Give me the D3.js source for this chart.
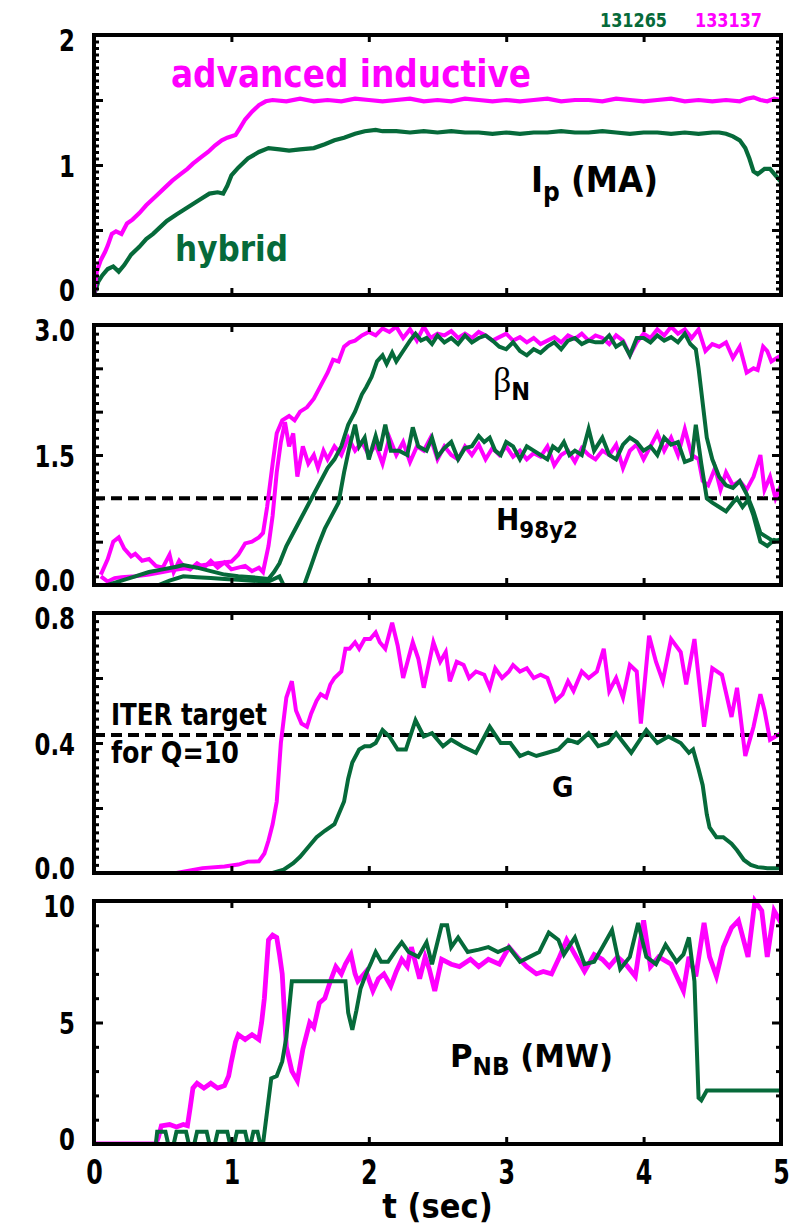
<!DOCTYPE html>
<html><head><meta charset="utf-8">
<script src="https://cdn.jsdelivr.net/npm/d3@7"></script>
<style>
html,body{margin:0;padding:0;background:#fff;}
svg{display:block;}
text{font-family:"Liberation Sans Narrow","DejaVu Sans Condensed","Roboto Condensed","DejaVu Sans",sans-serif;font-weight:bold;}
</style></head>
<body>
<svg id="chart" width="796" height="1227"></svg>
<script>
// ---------------- data ----------------
const shotLabels = ["131265", "133137"];
const xTickValues = [0, 1, 2, 3, 4, 5];

// Panel 1: plasma current Ip (MA)
const ipAdvanced = [[0,0],[0.02,0.18],[0.05,0.27],[0.08,0.33],[0.1,0.38],[0.13,0.47],[0.16,0.49],[0.2,0.47],[0.24,0.55],[0.28,0.58],[0.33,0.63],[0.38,0.69],[0.45,0.76],[0.52,0.83],[0.57,0.88],[0.63,0.93],[0.68,0.97],[0.72,1.01],[0.78,1.06],[0.83,1.10],[0.88,1.15],[0.93,1.19],[0.97,1.21],[1.03,1.23],[1.06,1.28],[1.1,1.35],[1.15,1.41],[1.2,1.46],[1.25,1.49],[1.3,1.50],[1.4,1.49],[1.5,1.51],[1.6,1.49],[1.7,1.50],[1.8,1.49],[1.9,1.51],[2.0,1.50],[2.1,1.49],[2.2,1.50],[2.3,1.51],[2.4,1.49],[2.5,1.50],[2.6,1.49],[2.7,1.51],[2.8,1.50],[2.9,1.49],[3.0,1.50],[3.1,1.49],[3.2,1.50],[3.3,1.51],[3.4,1.49],[3.5,1.50],[3.6,1.50],[3.7,1.49],[3.8,1.51],[3.9,1.50],[4.0,1.49],[4.1,1.50],[4.2,1.51],[4.3,1.49],[4.4,1.50],[4.5,1.49],[4.6,1.50],[4.7,1.49],[4.75,1.51],[4.8,1.52],[4.85,1.50],[4.9,1.49],[4.95,1.51],[5.0,1.50]];
const ipHybrid = [[0,0],[0.03,0.1],[0.06,0.15],[0.1,0.2],[0.14,0.22],[0.18,0.18],[0.22,0.23],[0.27,0.31],[0.33,0.37],[0.38,0.43],[0.43,0.47],[0.48,0.52],[0.53,0.57],[0.6,0.62],[0.66,0.66],[0.72,0.70],[0.78,0.74],[0.84,0.78],[0.9,0.79],[0.94,0.78],[0.97,0.84],[1.0,0.92],[1.05,0.98],[1.12,1.05],[1.2,1.10],[1.27,1.13],[1.35,1.12],[1.42,1.11],[1.5,1.12],[1.6,1.13],[1.68,1.16],[1.75,1.19],[1.82,1.21],[1.9,1.24],[1.97,1.26],[2.05,1.27],[2.1,1.26],[2.2,1.26],[2.3,1.25],[2.4,1.26],[2.5,1.25],[2.6,1.26],[2.7,1.25],[2.8,1.25],[2.9,1.24],[3.0,1.25],[3.1,1.24],[3.2,1.25],[3.3,1.25],[3.4,1.26],[3.5,1.25],[3.6,1.25],[3.7,1.26],[3.8,1.25],[3.9,1.24],[4.0,1.25],[4.1,1.25],[4.2,1.24],[4.3,1.25],[4.4,1.24],[4.5,1.25],[4.55,1.25],[4.6,1.24],[4.65,1.22],[4.7,1.19],[4.74,1.13],[4.77,1.05],[4.8,0.95],[4.83,0.93],[4.88,0.97],[4.92,0.97],[4.96,0.92],[5.0,0.87]];

// Panel 2: beta_N and H98y2
const betaNAdvanced = [[0.05,0.1],[0.1,0.04],[0.15,0.08],[0.2,0.09],[0.3,0.1],[0.4,0.12],[0.5,0.15],[0.6,0.18],[0.7,0.2],[0.8,0.23],[0.9,0.25],[1.0,0.27],[1.05,0.35],[1.1,0.48],[1.15,0.5],[1.2,0.55],[1.23,0.6],[1.26,0.9],[1.3,1.4],[1.33,1.75],[1.37,1.9],[1.42,1.95],[1.46,1.9],[1.5,2.0],[1.55,2.05],[1.6,2.15],[1.65,2.3],[1.7,2.45],[1.74,2.6],[1.78,2.58],[1.82,2.75],[1.86,2.8],[1.9,2.82],[1.95,2.88],[2.0,2.92],[2.05,2.88],[2.1,2.96],[2.15,2.92],[2.2,2.98],[2.25,2.85],[2.3,2.95],[2.35,2.82],[2.4,2.98],[2.45,2.85],[2.5,2.9],[2.55,2.88],[2.6,2.93],[2.65,2.85],[2.7,2.9],[2.75,2.85],[2.8,2.92],[2.85,2.88],[2.9,2.82],[2.95,2.86],[3.0,2.9],[3.05,2.82],[3.1,2.86],[3.15,2.8],[3.2,2.85],[3.25,2.78],[3.3,2.82],[3.35,2.86],[3.4,2.8],[3.45,2.88],[3.5,2.84],[3.55,2.9],[3.6,2.82],[3.65,2.88],[3.7,2.85],[3.75,2.78],[3.8,2.88],[3.85,2.82],[3.9,2.65],[3.95,2.8],[4.0,2.9],[4.05,2.85],[4.1,2.95],[4.15,2.88],[4.2,2.98],[4.25,2.9],[4.3,2.95],[4.35,2.85],[4.4,2.95],[4.45,2.7],[4.5,2.78],[4.55,2.75],[4.6,2.8],[4.65,2.62],[4.7,2.75],[4.75,2.45],[4.8,2.5],[4.83,2.48],[4.87,2.75],[4.9,2.7],[4.93,2.58],[4.97,2.62],[5.0,2.65]];
const h98Advanced = [[0.05,0.12],[0.1,0.3],[0.14,0.5],[0.18,0.55],[0.22,0.42],[0.27,0.33],[0.3,0.36],[0.35,0.28],[0.4,0.3],[0.45,0.22],[0.5,0.2],[0.55,0.35],[0.58,0.15],[0.62,0.28],[0.66,0.2],[0.7,0.18],[0.75,0.25],[0.8,0.2],[0.85,0.28],[0.9,0.2],[0.95,0.26],[1.0,0.18],[1.05,0.2],[1.1,0.22],[1.15,0.16],[1.2,0.2],[1.23,0.15],[1.27,0.45],[1.3,0.8],[1.33,1.3],[1.36,1.65],[1.39,1.88],[1.42,1.6],[1.45,1.75],[1.48,1.25],[1.52,1.6],[1.56,1.4],[1.6,1.5],[1.63,1.35],[1.67,1.55],[1.7,1.45],[1.75,1.6],[1.8,1.5],[1.85,1.7],[1.9,1.55],[1.95,1.65],[2.0,1.5],[2.05,1.62],[2.1,1.4],[2.15,1.7],[2.2,1.5],[2.25,1.65],[2.3,1.42],[2.35,1.6],[2.4,1.55],[2.45,1.7],[2.5,1.45],[2.55,1.6],[2.6,1.5],[2.65,1.45],[2.7,1.6],[2.75,1.5],[2.8,1.62],[2.85,1.45],[2.9,1.58],[2.95,1.5],[3.0,1.6],[3.05,1.48],[3.1,1.55],[3.15,1.45],[3.2,1.52],[3.25,1.48],[3.3,1.6],[3.35,1.38],[3.4,1.5],[3.45,1.55],[3.5,1.42],[3.55,1.58],[3.6,1.5],[3.65,1.45],[3.7,1.55],[3.75,1.5],[3.8,1.62],[3.85,1.35],[3.9,1.55],[3.95,1.62],[4.0,1.45],[4.05,1.6],[4.1,1.75],[4.15,1.55],[4.2,1.7],[4.25,1.5],[4.3,1.8],[4.35,1.5],[4.4,1.45],[4.43,1.2],[4.47,1.15],[4.52,1.35],[4.56,1.1],[4.6,1.3],[4.65,1.15],[4.7,1.2],[4.75,1.1],[4.8,1.25],[4.85,1.5],[4.88,1.1],[4.92,1.25],[4.96,1.0],[5.0,1.15]];
const betaNHybrid = [[0.1,0.0],[0.2,0.05],[0.3,0.1],[0.4,0.15],[0.5,0.18],[0.6,0.21],[0.65,0.23],[0.75,0.2],[0.85,0.16],[0.95,0.12],[1.05,0.1],[1.15,0.09],[1.27,0.07],[1.31,0.15],[1.35,0.25],[1.4,0.45],[1.45,0.6],[1.5,0.75],[1.55,0.9],[1.6,1.05],[1.65,1.2],[1.7,1.35],[1.75,1.45],[1.8,1.6],[1.85,1.85],[1.9,2.0],[1.95,2.2],[1.98,2.28],[2.02,2.4],[2.06,2.58],[2.1,2.65],[2.13,2.55],[2.17,2.68],[2.2,2.58],[2.25,2.7],[2.3,2.82],[2.34,2.9],[2.38,2.82],[2.42,2.85],[2.46,2.78],[2.5,2.88],[2.55,2.8],[2.6,2.85],[2.65,2.78],[2.7,2.88],[2.75,2.8],[2.8,2.85],[2.85,2.88],[2.9,2.82],[2.95,2.75],[3.0,2.72],[3.05,2.8],[3.1,2.7],[3.15,2.65],[3.2,2.72],[3.25,2.68],[3.3,2.75],[3.35,2.8],[3.4,2.72],[3.45,2.82],[3.5,2.85],[3.55,2.78],[3.6,2.82],[3.65,2.8],[3.7,2.8],[3.75,2.88],[3.8,2.75],[3.85,2.8],[3.9,2.65],[3.95,2.85],[4.0,2.85],[4.05,2.8],[4.1,2.88],[4.15,2.82],[4.2,2.86],[4.25,2.8],[4.3,2.9],[4.34,2.78],[4.38,2.72],[4.4,2.5],[4.43,2.1],[4.46,1.7],[4.5,1.45],[4.55,1.25],[4.6,1.15],[4.65,1.12],[4.7,1.2],[4.75,1.05],[4.8,0.85],[4.85,0.6],[4.9,0.55],[4.95,0.5],[5.0,0.53]];
const h98Hybrid = [[0.47,0.0],[0.55,0.05],[0.65,0.1],[0.75,0.09],[0.85,0.08],[0.95,0.07],[1.05,0.06],[1.15,0.05],[1.27,0.04],[1.35,0.1],[1.38,0.0],[1.53,0.0],[1.58,0.22],[1.63,0.45],[1.68,0.65],[1.73,0.8],[1.78,0.95],[1.82,1.3],[1.86,1.6],[1.9,1.85],[1.93,1.6],[1.97,1.7],[2.0,1.45],[2.05,1.72],[2.08,1.55],[2.12,1.85],[2.16,1.55],[2.22,1.55],[2.28,1.5],[2.32,1.82],[2.36,1.6],[2.42,1.55],[2.46,1.7],[2.5,1.48],[2.55,1.58],[2.6,1.65],[2.65,1.45],[2.7,1.58],[2.75,1.6],[2.8,1.72],[2.84,1.65],[2.88,1.7],[2.92,1.55],[2.96,1.5],[3.0,1.65],[3.05,1.6],[3.1,1.45],[3.15,1.6],[3.2,1.55],[3.25,1.5],[3.3,1.45],[3.34,1.6],[3.38,1.55],[3.42,1.65],[3.46,1.5],[3.5,1.55],[3.55,1.5],[3.6,1.8],[3.64,1.55],[3.7,1.7],[3.75,1.5],[3.8,1.45],[3.85,1.62],[3.9,1.7],[3.95,1.65],[4.0,1.55],[4.05,1.6],[4.1,1.5],[4.15,1.7],[4.2,1.62],[4.25,1.65],[4.3,1.42],[4.35,1.45],[4.38,1.85],[4.42,1.4],[4.46,1.0],[4.5,0.95],[4.55,0.9],[4.6,0.85],[4.65,0.95],[4.68,1.0],[4.72,0.9],[4.76,0.98],[4.8,0.8],[4.85,0.5],[4.9,0.45],[4.95,0.52],[5.0,0.5]];
const h98Reference = 1.0;

// Panel 3: gain factor G
const gAdvanced = [[0.05,0],[0.6,0.0],[0.79,0.015],[0.95,0.02],[1.05,0.026],[1.12,0.035],[1.2,0.036],[1.24,0.06],[1.27,0.1],[1.3,0.15],[1.33,0.22],[1.36,0.4],[1.4,0.54],[1.44,0.59],[1.47,0.5],[1.51,0.46],[1.55,0.45],[1.58,0.49],[1.62,0.53],[1.65,0.55],[1.69,0.54],[1.72,0.58],[1.75,0.6],[1.8,0.62],[1.83,0.69],[1.86,0.69],[1.9,0.71],[1.93,0.69],[1.97,0.72],[2.01,0.72],[2.05,0.74],[2.08,0.71],[2.12,0.69],[2.17,0.77],[2.21,0.7],[2.25,0.6],[2.32,0.71],[2.36,0.66],[2.4,0.57],[2.47,0.71],[2.52,0.65],[2.56,0.68],[2.59,0.59],[2.64,0.65],[2.69,0.64],[2.73,0.6],[2.78,0.62],[2.84,0.61],[2.88,0.57],[2.92,0.63],[2.97,0.6],[3.02,0.62],[3.05,0.64],[3.1,0.62],[3.15,0.63],[3.2,0.6],[3.25,0.61],[3.3,0.6],[3.36,0.53],[3.41,0.55],[3.45,0.59],[3.49,0.56],[3.55,0.62],[3.6,0.6],[3.66,0.62],[3.71,0.69],[3.75,0.56],[3.8,0.6],[3.85,0.54],[3.9,0.64],[3.95,0.62],[3.98,0.46],[4.04,0.73],[4.09,0.65],[4.14,0.59],[4.2,0.72],[4.27,0.68],[4.31,0.58],[4.37,0.72],[4.44,0.45],[4.5,0.63],[4.57,0.61],[4.64,0.48],[4.68,0.57],[4.74,0.36],[4.8,0.45],[4.85,0.55],[4.88,0.5],[4.92,0.41],[4.96,0.42],[5.0,0.43]];
const gHybrid = [[0.05,0],[1.3,0.0],[1.38,0.01],[1.45,0.03],[1.5,0.05],[1.56,0.08],[1.62,0.11],[1.68,0.13],[1.75,0.15],[1.79,0.19],[1.82,0.22],[1.85,0.29],[1.88,0.34],[1.93,0.38],[1.97,0.39],[2.01,0.39],[2.05,0.4],[2.1,0.44],[2.15,0.42],[2.21,0.38],[2.27,0.38],[2.34,0.47],[2.4,0.42],[2.46,0.43],[2.54,0.39],[2.6,0.41],[2.68,0.39],[2.78,0.37],[2.88,0.45],[2.96,0.4],[3.03,0.4],[3.1,0.36],[3.16,0.37],[3.22,0.36],[3.3,0.37],[3.38,0.38],[3.45,0.41],[3.52,0.4],[3.6,0.43],[3.67,0.39],[3.74,0.4],[3.8,0.43],[3.91,0.37],[4.02,0.44],[4.1,0.4],[4.18,0.42],[4.27,0.4],[4.33,0.37],[4.36,0.38],[4.4,0.32],[4.43,0.27],[4.46,0.18],[4.48,0.14],[4.53,0.11],[4.58,0.11],[4.64,0.09],[4.68,0.07],[4.73,0.04],[4.78,0.025],[4.83,0.018],[4.9,0.015],[5.0,0.015]];
const gIterTarget = 0.425;

// Panel 4: neutral beam power P_NB (MW)
const pnbAdvanced = [[0,0],[0.45,0],[0.47,0.3],[0.49,0.75],[0.55,0.8],[0.6,0.7],[0.65,0.8],[0.68,0.75],[0.7,1.5],[0.72,2.3],[0.75,2.5],[0.8,2.3],[0.85,2.5],[0.9,2.3],[0.95,2.4],[0.98,2.8],[1.0,3.4],[1.03,4.2],[1.05,4.5],[1.1,4.3],[1.15,4.5],[1.2,4.3],[1.22,5.0],[1.24,6.0],[1.27,8.4],[1.3,8.6],[1.33,8.5],[1.35,7.8],[1.37,7.0],[1.4,4.0],[1.44,3.0],[1.48,2.6],[1.52,3.9],[1.57,5.0],[1.6,4.8],[1.64,5.8],[1.68,6.0],[1.72,6.7],[1.76,7.3],[1.8,7.0],[1.83,7.4],[1.87,7.8],[1.9,7.0],[1.92,6.7],[1.98,7.1],[2.03,6.3],[2.07,6.8],[2.11,7.0],[2.16,6.5],[2.2,7.1],[2.24,7.6],[2.28,7.3],[2.31,8.1],[2.37,6.8],[2.41,7.7],[2.44,7.2],[2.48,6.3],[2.53,7.6],[2.6,7.4],[2.66,7.3],[2.74,7.6],[2.8,7.3],[2.87,7.6],[2.95,7.4],[3.02,8.1],[3.08,7.7],[3.15,7.3],[3.22,7.0],[3.27,7.1],[3.33,7.0],[3.38,7.6],[3.44,8.4],[3.51,7.7],[3.57,7.1],[3.64,7.8],[3.7,7.6],[3.75,7.3],[3.81,7.7],[3.87,7.4],[3.94,6.9],[4.0,9.2],[4.05,7.3],[4.11,7.7],[4.2,7.4],[4.29,6.3],[4.33,7.7],[4.38,6.9],[4.44,9.1],[4.48,7.7],[4.53,6.9],[4.58,8.1],[4.64,8.9],[4.69,9.2],[4.76,7.7],[4.81,10],[4.86,9.6],[4.9,7.7],[4.95,9.6],[5.0,9.1]];
const pnbHybrid = [[0,0],[0.45,0],[0.46,0.5],[0.52,0.5],[0.54,0],[0.58,0],[0.6,0.5],[0.67,0.5],[0.69,0],[0.73,0],[0.75,0.5],[0.82,0.5],[0.84,0],[0.88,0],[0.9,0.5],[0.97,0.5],[0.99,0],[1.02,0],[1.04,0.5],[1.1,0.5],[1.12,0],[1.14,0],[1.16,0.5],[1.19,0.5],[1.21,0],[1.23,0],[1.29,2.7],[1.33,2.8],[1.37,3.4],[1.4,4.4],[1.44,6.7],[1.83,6.7],[1.85,5.4],[1.88,4.7],[1.91,5.5],[1.94,6.4],[1.98,7.0],[2.02,7.5],[2.05,7.9],[2.09,7.5],[2.14,7.5],[2.2,8.0],[2.24,8.3],[2.29,7.9],[2.36,7.7],[2.42,8.3],[2.46,7.4],[2.53,9.0],[2.57,9.0],[2.6,8.1],[2.65,8.5],[2.72,7.9],[2.8,8.0],[2.87,8.1],[2.94,7.9],[3.02,8.1],[3.1,7.5],[3.17,7.7],[3.24,7.9],[3.31,8.7],[3.38,8.4],[3.42,7.8],[3.5,8.5],[3.57,7.4],[3.64,7.5],[3.7,8.1],[3.77,8.8],[3.83,7.2],[3.9,7.7],[3.96,9.1],[4.02,7.7],[4.09,7.4],[4.16,8.2],[4.24,7.5],[4.29,7.8],[4.33,8.5],[4.37,6.7],[4.4,1.9],[4.42,1.8],[4.46,2.2],[5.0,2.2]];

// y-axis tick labels per panel
const ipTickLabels = [0, 1, 2];
const betaTickLabels = [0, 1.5, 3];
const gTickLabels = [0, 0.4, 0.8];
const pnbTickLabels = [0, 5, 10];

// ---------------- layout ----------------
const MAG = "#ff00ff", GRN = "#066a3a";
const L = 94, R = 781;
const svg = d3.select("#chart");
const x = d3.scaleLinear().domain([0, 5]).range([L, R]);

const panels = [
  {top:35, bottom:295, domain:[0,2], labels:ipTickLabels, fmt:d3.format("d"), minor:0.05, major:0.5,
   series:[{d:ipHybrid,c:GRN,w:4.2},{d:ipAdvanced,c:MAG,w:4.2}]},
  {top:325, bottom:585, domain:[0,3], labels:betaTickLabels, fmt:d3.format(".1f"), minor:0.1, major:0.5,
   series:[{d:betaNAdvanced,c:MAG,w:4},{d:h98Advanced,c:MAG,w:4},{d:betaNHybrid,c:GRN,w:4},{d:h98Hybrid,c:GRN,w:4}], ref:h98Reference},
  {top:613, bottom:873, domain:[0,0.8], labels:gTickLabels, fmt:d3.format(".1f"), minor:0.025, major:0.2,
   series:[{d:gAdvanced,c:MAG,w:4},{d:gHybrid,c:GRN,w:4}], ref:gIterTarget},
  {top:901, bottom:1144, domain:[0,10], labels:pnbTickLabels, fmt:d3.format("d"), minor:1, major:5,
   series:[{d:pnbAdvanced,c:MAG,w:4.8},{d:pnbHybrid,c:GRN,w:4}]}
];

panels.forEach((p, i) => {
  const y = d3.scaleLinear().domain(p.domain).range([p.bottom, p.top]);
  const g = svg.append("g");
  const clipId = "clip" + i;
  svg.append("clipPath").attr("id", clipId).append("rect")
    .attr("x", L).attr("y", p.top - 6).attr("width", R - L + 2).attr("height", p.bottom - p.top + 8);

  if (p.ref !== undefined) {
    g.append("line").attr("x1", L).attr("x2", R).attr("y1", y(p.ref)).attr("y2", y(p.ref))
      .attr("stroke", "#000").attr("stroke-width", 4).attr("stroke-dasharray", "11,6");
  }
  const line = d3.line().x(d => x(d[0])).y(d => y(d[1]));
  p.series.forEach(s => {
    g.append("path").datum(s.d).attr("d", line).attr("fill", "none")
      .attr("stroke", s.c).attr("stroke-width", s.w).attr("stroke-linejoin", "miter")
      .attr("clip-path", `url(#${clipId})`);
  });

  const n = Math.round((p.domain[1] - p.domain[0]) / p.minor);
  const all = d3.range(1, n).map(k => +(p.domain[0] + k * p.minor).toFixed(4));
  const isMajor = v => Math.abs(v / p.major - Math.round(v / p.major)) < 1e-6;
  const minorV = all.filter(v => !isMajor(v)), majorV = all.filter(isMajor);
  const tickStyle = sel => { sel.select(".domain").remove(); sel.selectAll("line").attr("stroke", "#000").attr("stroke-width", 3); };
  g.append("g").attr("transform", `translate(${L},0)`).call(d3.axisLeft(y).tickValues(minorV).tickSize(-5).tickFormat("")).call(tickStyle);
  g.append("g").attr("transform", `translate(${L},0)`).call(d3.axisLeft(y).tickValues(majorV).tickSize(-9).tickFormat("")).call(tickStyle);
  g.append("g").attr("transform", `translate(${R},0)`).call(d3.axisRight(y).tickValues(minorV).tickSize(-5).tickFormat("")).call(tickStyle);
  g.append("g").attr("transform", `translate(${R},0)`).call(d3.axisRight(y).tickValues(majorV).tickSize(-9).tickFormat("")).call(tickStyle);
  g.append("g").attr("transform", `translate(0,${p.top})`).call(d3.axisTop(x).tickValues([1,2,3,4]).tickSize(-7).tickFormat("")).call(tickStyle);
  g.append("g").attr("transform", `translate(0,${p.bottom})`).call(d3.axisBottom(x).tickValues([1,2,3,4]).tickSize(-7).tickFormat("")).call(tickStyle);

  g.append("rect").attr("x", L).attr("y", p.top).attr("width", R - L).attr("height", p.bottom - p.top)
    .attr("fill", "none").attr("stroke", "#000").attr("stroke-width", 4);

  // y tick labels (condensed via horizontal scale); end labels nudged inward
  const ax = g.append("g").attr("transform", `translate(${L - 19},0)`)
    .call(d3.axisLeft(y).tickValues(p.labels).tickSize(0).tickPadding(0).tickFormat(p.fmt));
  ax.select(".domain").remove();
  ax.selectAll("text").attr("font-size", 31).attr("fill", "#000")
    .attr("dy", (d) => d === p.domain[0] ? 5 : (d === p.domain[1] ? 15 : 11))
    .attr("transform", "scale(0.82,1)");
});

// bottom x axis labels
const p4 = panels[3];
const xa = svg.append("g").attr("transform", `translate(0,${p4.bottom})`)
  .call(d3.axisBottom(x).tickValues(xTickValues).tickSize(0).tickPadding(17).tickFormat(d3.format("d")));
xa.select(".domain").remove();
xa.selectAll("text").attr("font-size", 33).attr("fill", "#000").attr("transform", "scale(0.8,1)");

svg.append("text").attr("x", (L + R) / 2).attr("y", 1218).attr("text-anchor", "middle")
  .attr("font-size", 34).text("t (sec)");

// shot numbers
svg.append("text").attr("x", 667).attr("y", 27).attr("text-anchor", "end").attr("font-size", 20)
  .attr("textLength", 67).attr("lengthAdjust", "spacingAndGlyphs").attr("fill", GRN).text(shotLabels[0]);
svg.append("text").attr("x", 695).attr("y", 27).attr("font-size", 20)
  .attr("textLength", 67).attr("lengthAdjust", "spacingAndGlyphs").attr("fill", MAG).text(shotLabels[1]);

// annotations
svg.append("text").attr("x", 171).attr("y", 87).attr("font-size", 37).attr("fill", MAG)
  .attr("textLength", 360).attr("lengthAdjust", "spacingAndGlyphs").text("advanced inductive");
svg.append("text").attr("x", 175).attr("y", 261).attr("font-size", 36).attr("fill", GRN)
  .attr("textLength", 113).attr("lengthAdjust", "spacingAndGlyphs").text("hybrid");

const ipT = svg.append("text").attr("x", 531).attr("y", 192).attr("font-size", 36);
ipT.append("tspan").text("I");
ipT.append("tspan").attr("font-size", 26).attr("dy", 9).text("p");
ipT.append("tspan").attr("dy", -9).text(" (MA)");

const bT = svg.append("text").attr("x", 493).attr("y", 392).attr("font-size", 36);
bT.append("tspan").style("font-family", "'Liberation Serif','DejaVu Serif',serif").style("font-weight", "normal").text("β");
bT.append("tspan").attr("font-size", 25).attr("dy", 8).text("N");

const hT = svg.append("text").attr("x", 496).attr("y", 530).attr("font-size", 30)
  .attr("textLength", 82).attr("lengthAdjust", "spacingAndGlyphs");
hT.append("tspan").text("H");
hT.append("tspan").attr("font-size", 23).attr("dy", 8).text("98y2");

svg.append("text").attr("x", 111).attr("y", 725).attr("font-size", 30)
  .attr("textLength", 156).attr("lengthAdjust", "spacingAndGlyphs").text("ITER target");
svg.append("text").attr("x", 111).attr("y", 763).attr("font-size", 30)
  .attr("textLength", 128).attr("lengthAdjust", "spacingAndGlyphs").text("for Q=10");
svg.append("text").attr("x", 552).attr("y", 797).attr("font-size", 29).text("G");

const pT = svg.append("text").attr("x", 450).attr("y", 1067).attr("font-size", 32)
  .attr("textLength", 163).attr("lengthAdjust", "spacingAndGlyphs");
pT.append("tspan").text("P");
pT.append("tspan").attr("font-size", 24).attr("dy", 8).text("NB");
pT.append("tspan").attr("dy", -8).text(" (MW)");
</script>
</body></html>
